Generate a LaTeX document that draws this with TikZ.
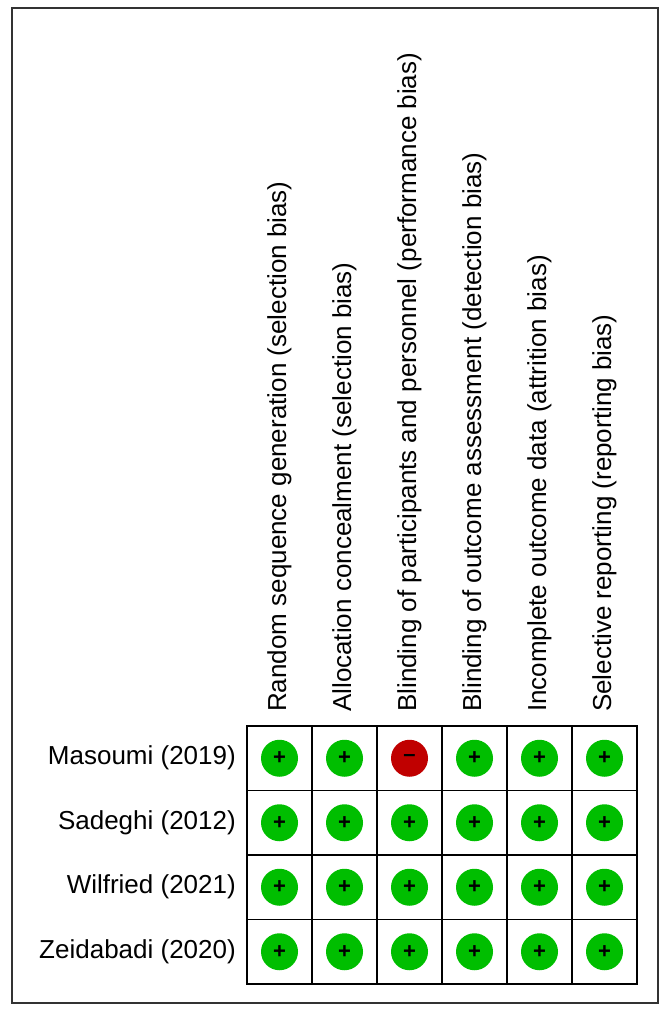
\documentclass[tikz,border=0pt]{standalone}
\usepackage{fontspec}
\setmainfont{Liberation Sans}
\begin{document}
\begin{tikzpicture}[x=1pt,y=-1pt,
  lbl/.style={font=\fontsize{26}{30}\selectfont, inner sep=0pt},
  cell/.style={draw=black, line width=1.6pt, minimum width=65pt, minimum height=64.5pt, inner sep=0pt},
  good/.style={circle, fill={rgb,255:red,0;green,190;blue,0}, minimum size=37pt, inner sep=0pt, font=\fontsize{22}{22}\selectfont\bfseries},
  bad/.style={circle, fill={rgb,255:red,192;green,0;blue,0}, minimum size=37pt, inner sep=0pt, font=\fontsize{22}{22}\selectfont\bfseries}]
\useasboundingbox (0,0) rectangle (666,1011);
\draw[line width=1.2pt, draw=black!80] (12,8) rectangle (658,1003);
\foreach \t [count=\i] in {Random sequence generation (selection bias),Allocation concealment (selection bias),Blinding of participants and personnel (performance bias),Blinding of outcome assessment (detection bias),Incomplete outcome data (attrition bias),Selective reporting (reporting bias)}{
  \node[lbl, rotate=90, anchor=west] (c\i) at ({247+65*(\i-0.5)},712) {\t};
}
\foreach \t [count=\j] in {Masoumi (2019),Sadeghi (2012),Wilfried (2021),Zeidabadi (2020)}{
  \node[lbl, anchor=east] (r\j) at (236,{726+64.5*(\j-0.5)}) {\t};
  \foreach \i in {1,...,6}{
    \node[cell] (b\i\j) at ({247+65*(\i-0.5)},{726+64.5*(\j-0.5)}) {};
    \ifnum\i\j=31
      \node[bad] (m\i\j) at (b\i\j) {\raisebox{1pt}{--}};
    \else
      \node[good] (m\i\j) at (b\i\j) {+};
    \fi
  }
}
\end{tikzpicture}
\end{document}
